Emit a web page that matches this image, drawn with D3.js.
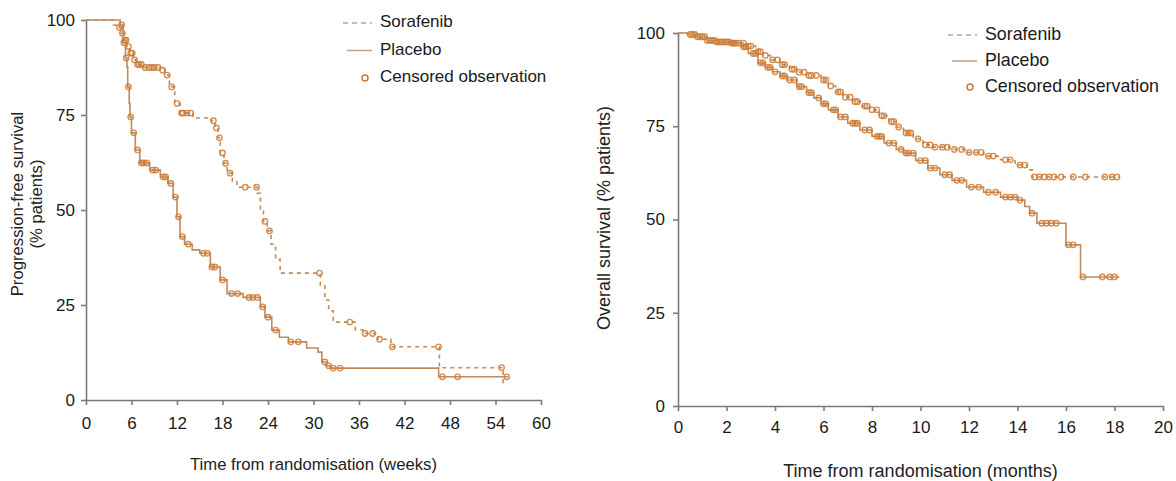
<!DOCTYPE html>
<html>
<head>
<meta charset="utf-8">
<script src="https://cdn.jsdelivr.net/npm/d3@7"></script>
<style>
  body { margin: 0; background: #fff; }
  text { font-family: "Liberation Sans", Arial, sans-serif; }
</style>
</head>
<body>
<script>
// ---- data: progression-free survival (weeks) ----
const pfsSorafenibT = [0, 3.6, 4.2, 4.6, 5.0, 5.4, 5.8, 6.2, 6.6, 7.5, 9.8, 10.4, 11.0, 11.7, 12.4, 14.1, 16.5, 17.0, 17.4, 17.7, 18.2, 18.6, 19.3, 19.9, 22.6, 23.0, 23.4, 23.9, 24.4, 25.0, 25.6, 30.9, 31.5, 32.0, 32.6, 35.5, 36.5, 38.5, 40.2, 46.6, 55.0, 55.4];
const pfsSorafenibS = [100, 98.7, 98, 96.5, 94.7, 93, 91.3, 89.5, 88.3, 87.5, 86.8, 85.5, 82.4, 78, 75.5, 74.2, 73.5, 71.6, 69, 65, 62.3, 59.7, 57.5, 56, 54.4, 50, 47, 44.5, 41, 37, 33.4, 30.3, 26.3, 23.5, 20.5, 18.5, 17.5, 16, 14, 8.5, 4.5, 4.5];
const pfsPlaceboT = [0, 4.5, 4.9, 5.2, 5.4, 5.5, 5.7, 5.8, 6.0, 6.5, 7.1, 8.4, 9.8, 10.8, 11.5, 12.0, 12.4, 13.0, 14.0, 15.0, 16.4, 17.7, 18.6, 20.7, 23.0, 23.6, 24.5, 25.5, 26.7, 29.1, 30.6, 31.1, 31.7, 32.2, 46.5, 55.7];
const pfsPlaceboS = [100, 98.7, 94, 90, 87.6, 82.4, 78, 74.5, 70.3, 65.8, 62.4, 60.5, 58.7, 57, 53.4, 48.2, 43, 41, 39.5, 38.6, 35, 31.6, 28, 27, 24.5, 21.8, 18.4, 16.5, 15.3, 13.7, 12.6, 10, 9, 8.4, 6.1, 6.1];
const pfsSorafenibCens = [4.4, 4.8, 5.1, 5.3, 5.6, 5.9, 6.1, 6.4, 6.8, 7.0, 7.3, 7.8, 8.3, 8.7, 9.0, 9.5, 10.1, 10.7, 11.3, 12.0, 12.6, 12.8, 13.3, 13.8, 16.8, 17.2, 17.6, 18.0, 18.4, 19.0, 21.0, 22.5, 23.6, 24.2, 30.8, 34.8, 36.8, 37.8, 38.7, 40.4, 46.5, 54.8];
const pfsPlaceboCens = [4.7, 5.0, 5.3, 5.6, 5.9, 6.3, 6.8, 7.3, 7.6, 8.0, 8.8, 9.2, 10.2, 10.5, 11.2, 11.8, 12.2, 12.7, 13.5, 15.5, 16.0, 16.6, 17.0, 18.0, 19.2, 20.0, 21.5, 22.0, 22.6, 23.3, 24.0, 25.0, 27.0, 28.0, 31.5, 32.0, 32.6, 33.5, 47.0, 49.0, 55.5];
const pfsXTicks = [0, 6, 12, 18, 24, 30, 36, 42, 48, 54, 60];

// ---- data: overall survival (months) ----
const osSorafenibT = [0, 0.4, 0.8, 1.2, 1.6, 2.2, 2.8, 3.2, 3.5, 3.8, 4.2, 4.6, 4.9, 5.3, 5.9, 6.2, 6.5, 6.8, 7.2, 7.6, 7.9, 8.3, 8.7, 9.0, 9.3, 9.7, 10.1, 10.5, 11.2, 11.9, 12.6, 13.3, 13.9, 14.4, 14.6, 18.2];
const osSorafenibS = [100, 99.6, 99, 98, 97.6, 97.3, 96.5, 95, 94, 92.8, 91.5, 90.3, 89.5, 88.6, 87.4, 85.8, 84.2, 82.8, 81.6, 80.4, 79.4, 77.8, 76.2, 74.8, 73.2, 71.6, 70, 69.4, 68.8, 68, 67, 66, 64.6, 63.3, 61.4, 61.4];
const osPlaceboT = [0, 0.4, 0.8, 1.2, 1.6, 2.2, 2.6, 2.9, 3.3, 3.6, 3.9, 4.2, 4.5, 4.9, 5.3, 5.6, 5.9, 6.2, 6.6, 7.0, 7.5, 8.0, 8.5, 9.0, 9.3, 9.8, 10.3, 10.8, 11.3, 11.9, 12.6, 13.3, 14.0, 14.3, 14.5, 14.8, 16.0, 16.6, 18.2];
const osPlaceboS = [100, 99.6, 99, 98, 97.6, 97.3, 96.3, 94.5, 92, 90.8, 89.6, 88.5, 87.4, 85.6, 84, 82.6, 81, 79.4, 77.5, 75.8, 74, 72.3, 70.5, 68.8, 67.8, 65.8, 63.8, 62, 60.5, 58.7, 57.3, 56, 55.2, 53.5, 51.7, 49, 43.2, 34.6, 34.6];
const osSorafenibCens = [0.5, 0.7, 0.9, 1.1, 1.3, 1.5, 1.7, 1.9, 2.1, 2.3, 2.4, 2.7, 2.9, 3.0, 3.3, 3.4, 3.6, 3.9, 4.1, 4.3, 4.4, 4.7, 4.8, 5.0, 5.2, 5.4, 5.5, 5.7, 6.0, 6.1, 6.3, 6.6, 6.7, 6.9, 7.1, 7.3, 7.4, 7.7, 7.8, 8.0, 8.2, 8.4, 8.5, 8.8, 8.9, 9.1, 9.4, 9.5, 9.6, 9.9, 10.2, 10.4, 10.6, 10.9, 11.1, 11.4, 11.7, 12.0, 12.3, 12.5, 12.8, 13.0, 13.5, 13.7, 14.1, 14.3, 14.7, 14.9, 15.1, 15.3, 15.5, 15.8, 16.3, 16.8, 17.6, 17.9, 18.1];
const osPlaceboCens = [0.6, 0.8, 1.0, 1.2, 1.4, 1.6, 1.8, 2.0, 2.2, 2.3, 2.5, 2.7, 2.8, 3.1, 3.2, 3.4, 3.5, 3.7, 3.8, 4.0, 4.3, 4.4, 4.6, 4.8, 5.0, 5.1, 5.4, 5.5, 5.8, 6.0, 6.1, 6.4, 6.5, 6.7, 6.9, 7.2, 7.3, 7.4, 7.7, 7.9, 8.2, 8.3, 8.4, 8.7, 8.9, 9.2, 9.4, 9.5, 9.7, 10.0, 10.2, 10.4, 10.6, 11.0, 11.2, 11.5, 11.7, 12.1, 12.4, 12.8, 13.1, 13.5, 13.7, 13.9, 14.1, 14.6, 15.0, 15.2, 15.4, 15.6, 16.1, 16.3, 16.7, 17.5, 17.8, 18.0];
const osXTicks = [0, 2, 4, 6, 8, 10, 12, 14, 16, 18, 20];

const yTicks = [0, 25, 50, 75, 100];
const legendLabels = ['Sorafenib', 'Placebo', 'Censored observation'];

// set variables
const w = 1176, h = 481;
const lineColor = '#bf8a5e';
const censColor = '#d07a33';
const axisColor = '#7a7a7a';

const svg = d3.select('body').append('svg')
    .attr('width', w)
    .attr('height', h);

// survival value of a step curve at time t
function survAt(ts, ss, t) {
    let v = ss[0];
    for (let i = 0; i < ts.length; i++) { if (ts[i] <= t) v = ss[i]; }
    return v;
}

function drawPanel(cfg) {
    const g = svg.append('g');
    const x = d3.scaleLinear().domain(cfg.xDomain).range(cfg.xRange);
    const y = d3.scaleLinear().domain([0, 100]).range(cfg.yRange);

    // axes
    const xAxis = d3.axisBottom(x).tickValues(cfg.xTicks).tickSize(5).tickSizeOuter(0).tickPadding(cfg.xPad);
    const yAxis = d3.axisLeft(y).tickValues(yTicks).tickSize(5).tickSizeOuter(0).tickPadding(cfg.yPad);

    const gx = g.append('g').attr('transform', `translate(0,${cfg.yRange[0]})`).call(xAxis);
    const gy = g.append('g').attr('transform', `translate(${cfg.xRange[0]},0)`).call(yAxis);
    [gx, gy].forEach(a => {
        a.selectAll('path, line').attr('stroke', axisColor).attr('stroke-width', 1.6);
        a.selectAll('text').attr('fill', '#1a1a1a').style('font-size', cfg.tickFont + 'px');
    });

    // curves
    const line = d3.line().x(d => x(d[0])).y(d => y(d[1])).curve(d3.curveStepAfter);
    cfg.curves.forEach(c => {
        const pts = c.t.map((t, i) => [t, c.s[i]]);
        g.append('path')
            .datum(pts)
            .attr('d', line)
            .attr('fill', 'none')
            .attr('stroke', lineColor)
            .attr('stroke-width', 1.6)
            .attr('stroke-dasharray', c.dashed ? '4,4' : null);
        g.selectAll(null)
            .data(c.cens)
            .enter()
            .append('circle')
            .attr('cx', d => x(d))
            .attr('cy', d => y(survAt(c.t, c.s, d)))
            .attr('r', 2.7)
            .attr('fill', 'none')
            .attr('stroke', censColor)
            .attr('stroke-width', 1.4)
            .attr('opacity', 0.85);
    });

    // axis titles
    g.append('text')
        .attr('x', (cfg.xRange[0] + cfg.xRange[1]) / 2)
        .attr('y', cfg.xTitleY)
        .attr('text-anchor', 'middle')
        .attr('dominant-baseline', 'middle')
        .attr('fill', '#222')
        .style('font-size', cfg.titleFont + 'px')
        .text(cfg.xTitle);

    cfg.yTitle.forEach((t, i) => {
        g.append('text')
            .attr('transform', `translate(${cfg.yTitleX[i]},${cfg.yTitleCy}) rotate(-90)`)
            .attr('text-anchor', 'middle')
            .attr('dominant-baseline', 'middle')
            .attr('fill', '#222')
            .style('font-size', cfg.titleFont + 'px')
            .text(t);
    });

    // legend
    const lg = g.append('g').attr('transform', `translate(${cfg.legend[0]},${cfg.legend[1]})`);
    legendLabels.forEach((lab, i) => {
        const ly = i * cfg.legendStep;
        if (i < 2) {
            lg.append('line')
                .attr('x1', i === 0 ? -37 : -33).attr('x2', -8)
                .attr('y1', ly).attr('y2', ly)
                .attr('stroke', '#c7a385')
                .attr('stroke-width', 1.5)
                .attr('stroke-dasharray', i === 0 ? '5,4' : null);
        } else {
            lg.append('circle')
                .attr('cx', -15).attr('cy', ly).attr('r', 3)
                .attr('fill', 'none').attr('stroke', censColor).attr('stroke-width', 1.5);
        }
        lg.append('text')
            .attr('x', 0).attr('y', ly)
            .attr('dominant-baseline', 'middle')
            .attr('fill', '#1a1a1a')
            .style('font-size', cfg.legendFont + 'px')
            .text(lab);
    });
}

drawPanel({
    xDomain: [0, 60], xRange: [86, 541], yRange: [400, 20],
    xTicks: pfsXTicks, xPad: 12, yPad: 6, tickFont: 17,
    xTitle: 'Time from randomisation (weeks)', xTitleY: 466,
    yTitle: ['Progression-free survival', '(% patients)'], yTitleX: [19, 38], yTitleCy: 204,
    titleFont: 16.7,
    curves: [
        { t: pfsSorafenibT, s: pfsSorafenibS, cens: pfsSorafenibCens, dashed: true },
        { t: pfsPlaceboT, s: pfsPlaceboS, cens: pfsPlaceboCens, dashed: false }
    ],
    legend: [380, 23], legendStep: 27.5, legendFont: 17
});

drawPanel({
    xDomain: [0, 20], xRange: [678, 1163], yRange: [406, 33],
    xTicks: osXTicks, xPad: 10, yPad: 8, tickFont: 17,
    xTitle: 'Time from randomisation (months)', xTitleY: 472,
    yTitle: ['Overall survival (% patients)'], yTitleX: [605], yTitleCy: 218,
    titleFont: 18,
    curves: [
        { t: osSorafenibT, s: osSorafenibS, cens: osSorafenibCens, dashed: true },
        { t: osPlaceboT, s: osPlaceboS, cens: osPlaceboCens, dashed: false }
    ],
    legend: [985, 35], legendStep: 26, legendFont: 17.8
});
</script>
</body>
</html>
